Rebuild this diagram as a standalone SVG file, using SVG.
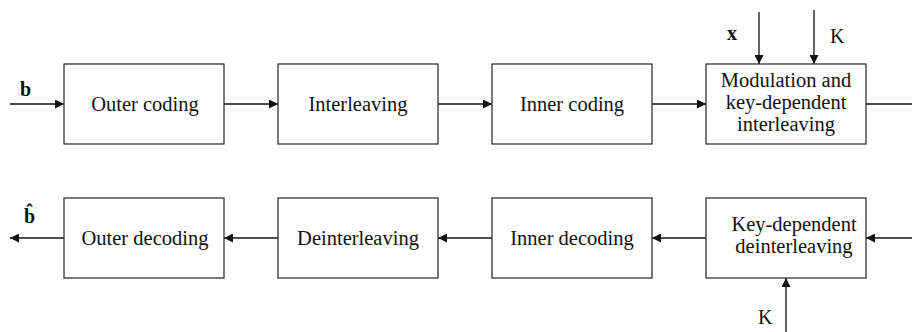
<svg xmlns="http://www.w3.org/2000/svg" width="912" height="332" viewBox="0 0 912 332">
<style>
.box{fill:#fff;stroke:#333;stroke-width:1.3}
.t{font-family:"Liberation Serif","Times New Roman",serif;font-size:20.5px;fill:#111;text-anchor:middle}
.lb{font-family:"Liberation Serif","Times New Roman",serif;font-size:20px;fill:#111}
.c{stroke:#111;stroke-width:1.3;fill:none}
</style>
<defs>
<marker id="ah" viewBox="0 0 10 10" refX="10" refY="5" markerWidth="10" markerHeight="9" markerUnits="userSpaceOnUse" orient="auto">
<path d="M0,0 L10,5 L0,10 z" fill="#111"/>
</marker>
</defs>
<g id="connectors">
<line class="c" x1="10" y1="104" x2="64" y2="104" marker-end="url(#ah)"/>
<line class="c" x1="224" y1="104" x2="278" y2="104" marker-end="url(#ah)"/>
<line class="c" x1="438" y1="104" x2="492" y2="104" marker-end="url(#ah)"/>
<line class="c" x1="652" y1="104" x2="706" y2="104" marker-end="url(#ah)"/>
<line class="c" x1="866" y1="104" x2="912" y2="104"/>
<line class="c" x1="759" y1="12" x2="759" y2="64" marker-end="url(#ah)"/>
<line class="c" x1="814" y1="10" x2="814" y2="64" marker-end="url(#ah)"/>
<line class="c" x1="912" y1="238" x2="866" y2="238" marker-end="url(#ah)"/>
<line class="c" x1="706" y1="238" x2="652" y2="238" marker-end="url(#ah)"/>
<line class="c" x1="492" y1="238" x2="438" y2="238" marker-end="url(#ah)"/>
<line class="c" x1="278" y1="238" x2="224" y2="238" marker-end="url(#ah)"/>
<line class="c" x1="64" y1="238" x2="10" y2="238" marker-end="url(#ah)"/>
<line class="c" x1="786" y1="332" x2="786" y2="278" marker-end="url(#ah)"/>
</g>
<g id="lbl-b"><text class="lb" x="20" y="96" font-weight="bold">b</text></g>
<g id="lbl-bhat"><text class="lb" x="24" y="223" font-weight="bold">b̂</text></g>
<g id="lbl-x"><text class="lb" x="727" y="40" font-weight="bold">x</text></g>
<g id="lbl-K1"><text class="lb" x="830" y="43">K</text></g>
<g id="lbl-K2"><text class="lb" x="758" y="324">K</text></g>
<g id="outer-coding"><rect class="box" x="64" y="64" width="160" height="80"/><text class="t" x="145" y="111">Outer coding</text></g>
<g id="interleaving"><rect class="box" x="278" y="64" width="160" height="80"/><text class="t" x="358" y="111">Interleaving</text></g>
<g id="inner-coding"><rect class="box" x="492" y="64" width="160" height="80"/><text class="t" x="572" y="111">Inner coding</text></g>
<g id="modulation"><rect class="box" x="706" y="64" width="160" height="80"/><text class="t" x="786" y="87">Modulation and</text><text class="t" x="786" y="109">key-dependent</text><text class="t" x="786" y="131">interleaving</text></g>
<g id="outer-decoding"><rect class="box" x="64" y="198" width="160" height="80"/><text class="t" x="145" y="245">Outer decoding</text></g>
<g id="deinterleaving"><rect class="box" x="278" y="198" width="160" height="80"/><text class="t" x="358" y="245">Deinterleaving</text></g>
<g id="inner-decoding"><rect class="box" x="492" y="198" width="160" height="80"/><text class="t" x="572" y="245">Inner decoding</text></g>
<g id="key-deinterleaving"><rect class="box" x="706" y="198" width="160" height="80"/><text class="t" x="794" y="231">Key-dependent</text><text class="t" x="794" y="253">deinterleaving</text></g>
</svg>
